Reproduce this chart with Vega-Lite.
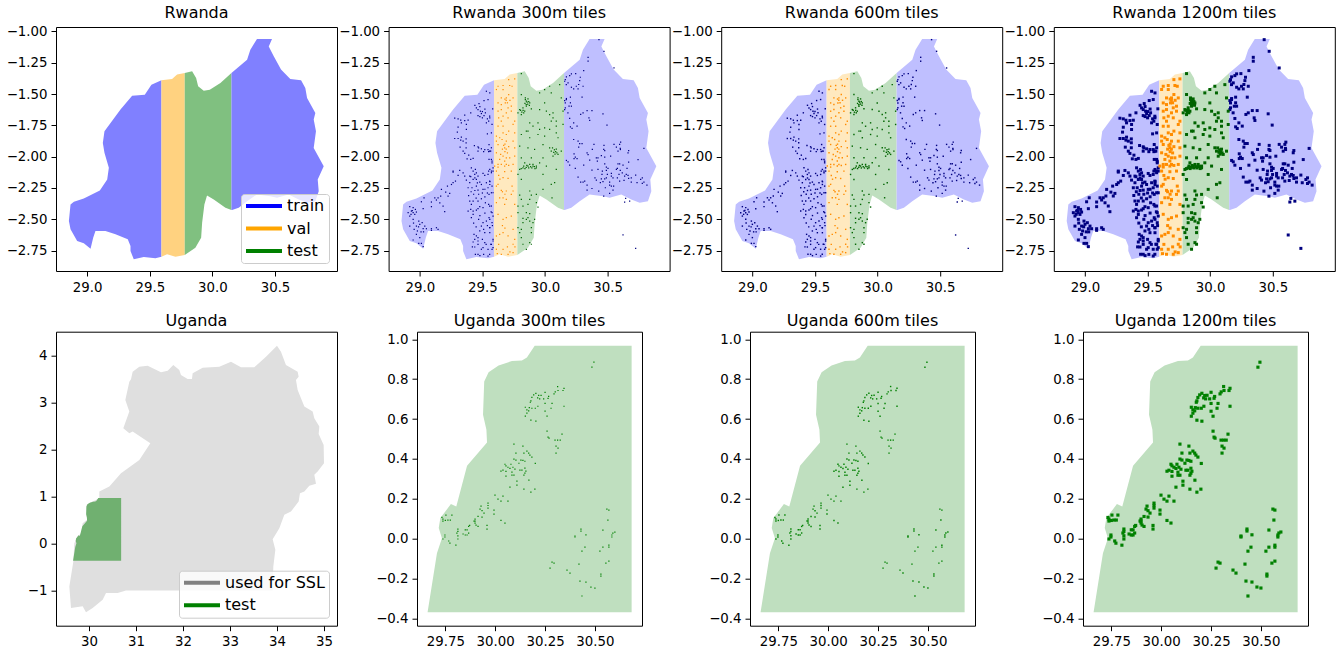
{"$schema":"https://vega.github.io/schema/vega-lite/v6.json","padding":{"left":5,"top":4,"right":0,"bottom":0},"background":"white","spacing":17.7,"resolve":{"scale":{"fill":"independent","stroke":"independent","color":"independent"},"legend":{"fill":"independent","stroke":"independent","color":"independent"}},
"config":{"font":"DejaVu Sans","view":{"stroke":"black","strokeWidth":1},"title":{"fontSize":16,"fontWeight":"normal","font":"DejaVu Sans","color":"black","offset":3,"anchor":"middle"},"axis":{"title":null,"grid":false,"domain":false,"labelFont":"DejaVu Sans","labelFontSize":13.33,"labelColor":"black","tickColor":"black","tickSize":5,"tickWidth":1,"labelPadding":4,"labelOverlap":false,"labelFlush":false,"labelBound":false},"legend":{"orient":"bottom-right","title":null,"labelFont":"DejaVu Sans","labelFontSize":16,"labelColor":"black","fillColor":"rgba(255,255,255,0.8)","strokeColor":"#cccccc","cornerRadius":3,"symbolType":"M-3,0H3","symbolSize":144,"symbolStrokeWidth":4,"symbolOffset":11,"labelOffset":15,"rowPadding":6.5,"padding":4,"offset":8}},
"datasets":{
"rw":[
{"p":"w","s":"train","i":0,"x":29.593,"y":-1.39},{"p":"w","s":"train","i":1,"x":29.513,"y":-1.425},{"p":"w","s":"train","i":2,"x":29.46,"y":-1.505},{"p":"w","s":"train","i":3,"x":29.359,"y":-1.513},{"p":"w","s":"train","i":4,"x":29.266,"y":-1.624},{"p":"w","s":"train","i":5,"x":29.138,"y":-1.797},{"p":"w","s":"train","i":6,"x":29.125,"y":-1.89},{"p":"w","s":"train","i":7,"x":29.138,"y":-1.969},{"p":"w","s":"train","i":8,"x":29.173,"y":-2.089},{"p":"w","s":"train","i":9,"x":29.16,"y":-2.182},{"p":"w","s":"train","i":10,"x":29.101,"y":-2.27},{"p":"w","s":"train","i":11,"x":28.973,"y":-2.333},{"p":"w","s":"train","i":12,"x":28.894,"y":-2.36},{"p":"w","s":"train","i":13,"x":28.867,"y":-2.381},{"p":"w","s":"train","i":14,"x":28.854,"y":-2.514},{"p":"w","s":"train","i":15,"x":28.867,"y":-2.58},{"p":"w","s":"train","i":16,"x":28.92,"y":-2.673},{"p":"w","s":"train","i":17,"x":28.973,"y":-2.692},{"p":"w","s":"train","i":18,"x":29.027,"y":-2.734},{"p":"w","s":"train","i":19,"x":29.048,"y":-2.647},{"p":"w","s":"train","i":20,"x":29.066,"y":-2.594},{"p":"w","s":"train","i":21,"x":29.146,"y":-2.594},{"p":"w","s":"train","i":22,"x":29.226,"y":-2.62},{"p":"w","s":"train","i":23,"x":29.324,"y":-2.66},{"p":"w","s":"train","i":24,"x":29.346,"y":-2.713},{"p":"w","s":"train","i":25,"x":29.346,"y":-2.753},{"p":"w","s":"train","i":26,"x":29.372,"y":-2.819},{"p":"w","s":"train","i":27,"x":29.452,"y":-2.801},{"p":"w","s":"train","i":28,"x":29.545,"y":-2.811},{"p":"w","s":"train","i":29,"x":29.593,"y":-2.798},
{"p":"v","s":"val","i":0,"x":29.593,"y":-1.39},{"p":"v","s":"val","i":1,"x":29.678,"y":-1.38},{"p":"v","s":"val","i":2,"x":29.718,"y":-1.345},{"p":"v","s":"val","i":3,"x":29.779,"y":-1.332},{"p":"v","s":"val","i":4,"x":29.779,"y":-2.785},{"p":"v","s":"val","i":5,"x":29.705,"y":-2.798},{"p":"v","s":"val","i":6,"x":29.638,"y":-2.779},{"p":"v","s":"val","i":7,"x":29.593,"y":-2.798},
{"p":"t","s":"test","i":0,"x":29.779,"y":-1.332},{"p":"t","s":"test","i":1,"x":29.838,"y":-1.319},{"p":"t","s":"test","i":2,"x":29.87,"y":-1.372},{"p":"t","s":"test","i":3,"x":29.886,"y":-1.438},{"p":"t","s":"test","i":4,"x":29.931,"y":-1.473},{"p":"t","s":"test","i":5,"x":29.979,"y":-1.465},{"p":"t","s":"test","i":6,"x":30.064,"y":-1.412},{"p":"t","s":"test","i":7,"x":30.152,"y":-1.332},{"p":"t","s":"test","i":8,"x":30.152,"y":-2.426},{"p":"t","s":"test","i":9,"x":30.104,"y":-2.408},{"p":"t","s":"test","i":10,"x":30.011,"y":-2.341},{"p":"t","s":"test","i":11,"x":29.957,"y":-2.309},{"p":"t","s":"test","i":12,"x":29.936,"y":-2.381},{"p":"t","s":"test","i":13,"x":29.918,"y":-2.527},{"p":"t","s":"test","i":14,"x":29.91,"y":-2.647},{"p":"t","s":"test","i":15,"x":29.864,"y":-2.726},{"p":"t","s":"test","i":16,"x":29.779,"y":-2.785},
{"p":"e","s":"train","i":0,"x":30.152,"y":-1.332},{"p":"e","s":"train","i":1,"x":30.277,"y":-1.226},{"p":"e","s":"train","i":2,"x":30.303,"y":-1.146},{"p":"e","s":"train","i":3,"x":30.356,"y":-1.061},{"p":"e","s":"train","i":4,"x":30.476,"y":-1.061},{"p":"e","s":"train","i":5,"x":30.45,"y":-1.12},{"p":"e","s":"train","i":6,"x":30.49,"y":-1.199},{"p":"e","s":"train","i":7,"x":30.548,"y":-1.305},{"p":"e","s":"train","i":8,"x":30.622,"y":-1.38},{"p":"e","s":"train","i":9,"x":30.708,"y":-1.39},{"p":"e","s":"train","i":10,"x":30.742,"y":-1.452},{"p":"e","s":"train","i":11,"x":30.756,"y":-1.531},{"p":"e","s":"train","i":12,"x":30.822,"y":-1.651},{"p":"e","s":"train","i":13,"x":30.809,"y":-1.704},{"p":"e","s":"train","i":14,"x":30.827,"y":-1.797},{"p":"e","s":"train","i":15,"x":30.809,"y":-1.93},{"p":"e","s":"train","i":16,"x":30.889,"y":-2.076},{"p":"e","s":"train","i":17,"x":30.841,"y":-2.182},{"p":"e","s":"train","i":18,"x":30.849,"y":-2.275},{"p":"e","s":"train","i":19,"x":30.822,"y":-2.355},{"p":"e","s":"train","i":20,"x":30.756,"y":-2.368},{"p":"e","s":"train","i":21,"x":30.689,"y":-2.341},{"p":"e","s":"train","i":22,"x":30.609,"y":-2.301},{"p":"e","s":"train","i":23,"x":30.516,"y":-2.328},{"p":"e","s":"train","i":24,"x":30.463,"y":-2.315},{"p":"e","s":"train","i":25,"x":30.356,"y":-2.301},{"p":"e","s":"train","i":26,"x":30.277,"y":-2.355},{"p":"e","s":"train","i":27,"x":30.21,"y":-2.408},{"p":"e","s":"train","i":28,"x":30.157,"y":-2.426},{"p":"e","s":"train","i":29,"x":30.152,"y":-2.426}],
"ug":[
{"s":"used for SSL","i":0,"x":30.894,"y":3.496},{"s":"used for SSL","i":1,"x":30.929,"y":3.66},{"s":"used for SSL","i":2,"x":31.071,"y":3.766},{"s":"used for SSL","i":3,"x":31.248,"y":3.787},{"s":"used for SSL","i":4,"x":31.532,"y":3.645},{"s":"used for SSL","i":5,"x":31.674,"y":3.681},{"s":"used for SSL","i":6,"x":31.794,"y":3.801},{"s":"used for SSL","i":7,"x":31.922,"y":3.695},{"s":"used for SSL","i":8,"x":31.957,"y":3.589},{"s":"used for SSL","i":9,"x":32.099,"y":3.504},{"s":"used for SSL","i":10,"x":32.191,"y":3.504},{"s":"used for SSL","i":11,"x":32.206,"y":3.624},{"s":"used for SSL","i":12,"x":32.418,"y":3.745},{"s":"used for SSL","i":13,"x":32.773,"y":3.766},{"s":"used for SSL","i":14,"x":33.021,"y":3.872},{"s":"used for SSL","i":15,"x":33.234,"y":3.752},{"s":"used for SSL","i":16,"x":33.518,"y":3.752},{"s":"used for SSL","i":17,"x":33.766,"y":3.979},{"s":"used for SSL","i":18,"x":34.0,"y":4.213},{"s":"used for SSL","i":19,"x":34.085,"y":4.085},{"s":"used for SSL","i":20,"x":34.191,"y":3.801},{"s":"used for SSL","i":21,"x":34.44,"y":3.66},{"s":"used for SSL","i":22,"x":34.461,"y":3.553},{"s":"used for SSL","i":23,"x":34.404,"y":3.482},{"s":"used for SSL","i":24,"x":34.44,"y":3.27},{"s":"used for SSL","i":25,"x":34.582,"y":2.915},{"s":"used for SSL","i":26,"x":34.759,"y":2.809},{"s":"used for SSL","i":27,"x":34.794,"y":2.667},{"s":"used for SSL","i":28,"x":34.901,"y":2.489},{"s":"used for SSL","i":29,"x":34.887,"y":2.333},{"s":"used for SSL","i":30,"x":34.993,"y":2.099},{"s":"used for SSL","i":31,"x":35.0,"y":1.709},{"s":"used for SSL","i":32,"x":34.865,"y":1.532},{"s":"used for SSL","i":33,"x":34.794,"y":1.461},{"s":"used for SSL","i":34,"x":34.83,"y":1.27},{"s":"used for SSL","i":35,"x":34.688,"y":1.227},{"s":"used for SSL","i":36,"x":34.582,"y":1.106},{"s":"used for SSL","i":37,"x":34.489,"y":1.071},{"s":"used for SSL","i":38,"x":34.461,"y":0.894},{"s":"used for SSL","i":39,"x":34.298,"y":0.681},{"s":"used for SSL","i":40,"x":34.156,"y":0.61},{"s":"used for SSL","i":41,"x":34.05,"y":0.326},{"s":"used for SSL","i":42,"x":33.908,"y":0.092},{"s":"used for SSL","i":43,"x":33.965,"y":-0.135},{"s":"used for SSL","i":44,"x":33.922,"y":-0.489},{"s":"used for SSL","i":45,"x":33.908,"y":-1.0},{"s":"used for SSL","i":46,"x":30.787,"y":-1.0},{"s":"used for SSL","i":47,"x":30.61,"y":-1.057},{"s":"used for SSL","i":48,"x":30.362,"y":-1.057},{"s":"used for SSL","i":49,"x":30.291,"y":-1.199},{"s":"used for SSL","i":50,"x":30.078,"y":-1.376},{"s":"used for SSL","i":51,"x":29.936,"y":-1.468},{"s":"used for SSL","i":52,"x":29.865,"y":-1.34},{"s":"used for SSL","i":53,"x":29.617,"y":-1.376},{"s":"used for SSL","i":54,"x":29.582,"y":-0.915},{"s":"used for SSL","i":55,"x":29.667,"y":-0.383},{"s":"used for SSL","i":56,"x":29.688,"y":0.007},{"s":"used for SSL","i":57,"x":29.759,"y":0.149},{"s":"used for SSL","i":58,"x":29.83,"y":0.22},{"s":"used for SSL","i":59,"x":29.865,"y":0.433},{"s":"used for SSL","i":60,"x":29.957,"y":0.504},{"s":"used for SSL","i":61,"x":29.95,"y":0.823},{"s":"used for SSL","i":62,"x":30.043,"y":0.879},{"s":"used for SSL","i":63,"x":30.22,"y":0.965},{"s":"used for SSL","i":64,"x":30.22,"y":1.106},{"s":"used for SSL","i":65,"x":30.433,"y":1.213},{"s":"used for SSL","i":66,"x":30.681,"y":1.496},{"s":"used for SSL","i":67,"x":31.071,"y":1.78},{"s":"used for SSL","i":68,"x":31.305,"y":2.135},{"s":"used for SSL","i":69,"x":30.929,"y":2.383},{"s":"used for SSL","i":70,"x":30.858,"y":2.348},{"s":"used for SSL","i":71,"x":30.73,"y":2.454},{"s":"used for SSL","i":72,"x":30.858,"y":2.809},{"s":"used for SSL","i":73,"x":30.773,"y":3.057},{"s":"used for SSL","i":74,"x":30.858,"y":3.447},
{"s":"test","i":0,"x":29.661,"y":-0.37},{"s":"test","i":1,"x":29.708,"y":-0.073},{"s":"test","i":2,"x":29.733,"y":0.002},{"s":"test","i":3,"x":29.717,"y":0.053},{"s":"test","i":4,"x":29.725,"y":0.103},{"s":"test","i":5,"x":29.778,"y":0.173},{"s":"test","i":6,"x":29.805,"y":0.161},{"s":"test","i":7,"x":29.859,"y":0.365},{"s":"test","i":8,"x":29.959,"y":0.482},{"s":"test","i":9,"x":29.956,"y":0.546},{"s":"test","i":10,"x":29.939,"y":0.621},{"s":"test","i":11,"x":29.945,"y":0.788},{"s":"test","i":12,"x":29.967,"y":0.835},{"s":"test","i":13,"x":30.017,"y":0.868},{"s":"test","i":14,"x":30.084,"y":0.891},{"s":"test","i":15,"x":30.134,"y":0.893},{"s":"test","i":16,"x":30.159,"y":0.908},{"s":"test","i":17,"x":30.198,"y":0.968},{"s":"test","i":18,"x":30.684,"y":0.968},{"s":"test","i":19,"x":30.684,"y":-0.37}],
"rp":[
{"s":"train","x":29.532,"y":-1.478},{"s":"train","x":29.559,"y":-1.491},{"s":"train","x":29.545,"y":-1.544},{"s":"train","x":29.513,"y":-1.552},{"s":"train","x":29.473,"y":-1.576},{"s":"train","x":29.452,"y":-1.611},{"s":"train","x":29.465,"y":-1.624},{"s":"train","x":29.484,"y":-1.637},{"s":"train","x":29.524,"y":-1.65},{"s":"train","x":29.492,"y":-1.656},{"s":"train","x":29.465,"y":-1.672},{"s":"train","x":29.513,"y":-1.672},{"s":"train","x":29.559,"y":-1.69},{"s":"train","x":29.54,"y":-1.698},{"s":"train","x":29.359,"y":-1.669},{"s":"train","x":29.407,"y":-1.65},{"s":"train","x":29.279,"y":-1.693},{"s":"train","x":29.306,"y":-1.698},{"s":"train","x":29.327,"y":-1.709},{"s":"train","x":29.332,"y":-1.73},{"s":"train","x":29.359,"y":-1.712},{"s":"train","x":29.386,"y":-1.709},{"s":"train","x":29.372,"y":-1.743},{"s":"train","x":29.372,"y":-1.783},{"s":"train","x":29.532,"y":-1.73},{"s":"train","x":29.306,"y":-1.765},{"s":"train","x":29.3,"y":-1.804},{"s":"train","x":29.279,"y":-1.855},{"s":"train","x":29.306,"y":-1.855},{"s":"train","x":29.332,"y":-1.844},{"s":"train","x":29.327,"y":-1.868},{"s":"train","x":29.346,"y":-1.876},{"s":"train","x":29.37,"y":-1.858},{"s":"train","x":29.37,"y":-1.889},{"s":"train","x":29.37,"y":-1.929},{"s":"train","x":29.322,"y":-1.924},{"s":"train","x":29.346,"y":-1.956},{"s":"train","x":29.359,"y":-1.974},{"s":"train","x":29.391,"y":-1.988},{"s":"train","x":29.378,"y":-2.017},{"s":"train","x":29.407,"y":-2.022},{"s":"train","x":29.426,"y":-2.014},{"s":"train","x":29.436,"y":-1.911},{"s":"train","x":29.465,"y":-1.921},{"s":"train","x":29.492,"y":-1.937},{"s":"train","x":29.519,"y":-1.943},{"s":"train","x":29.545,"y":-1.943},{"s":"train","x":29.566,"y":-1.956},{"s":"train","x":29.572,"y":-2.022},{"s":"train","x":29.577,"y":-2.036},{"s":"train","x":29.54,"y":-1.818},{"s":"train","x":29.572,"y":-1.81},{"s":"train","x":29.465,"y":-1.956},{"s":"train","x":29.266,"y":-2.115},{"s":"train","x":29.319,"y":-2.11},{"s":"train","x":29.346,"y":-2.129},{"s":"train","x":29.306,"y":-2.15},{"s":"train","x":29.412,"y":-2.089},{"s":"train","x":29.426,"y":-2.115},{"s":"train","x":29.444,"y":-2.102},{"s":"train","x":29.452,"y":-2.129},{"s":"train","x":29.465,"y":-2.155},{"s":"train","x":29.399,"y":-2.155},{"s":"train","x":29.519,"y":-2.15},{"s":"train","x":29.559,"y":-2.102},{"s":"train","x":29.585,"y":-2.115},
{"s":"train","x":29.266,"y":-2.123},{"s":"train","x":29.359,"y":-2.155},{"s":"train","x":29.439,"y":-2.142},{"s":"train","x":29.505,"y":-2.134},{"s":"train","x":29.545,"y":-2.142},{"s":"train","x":29.572,"y":-2.115},{"s":"train","x":29.407,"y":-2.16},{"s":"train","x":29.426,"y":-2.182},{"s":"train","x":29.452,"y":-2.182},{"s":"train","x":29.479,"y":-2.203},{"s":"train","x":29.399,"y":-2.208},{"s":"train","x":29.372,"y":-2.187},{"s":"train","x":29.386,"y":-2.248},{"s":"train","x":29.417,"y":-2.248},{"s":"train","x":29.452,"y":-2.235},{"s":"train","x":29.492,"y":-2.222},{"s":"train","x":29.532,"y":-2.208},{"s":"train","x":29.559,"y":-2.222},{"s":"train","x":29.465,"y":-2.267},{"s":"train","x":29.505,"y":-2.261},{"s":"train","x":29.545,"y":-2.248},{"s":"train","x":29.572,"y":-2.288},{"s":"train","x":29.253,"y":-2.222},{"s":"train","x":29.266,"y":-2.208},{"s":"train","x":29.285,"y":-2.195},{"s":"train","x":29.221,"y":-2.235},{"s":"train","x":29.173,"y":-2.261},{"s":"train","x":29.207,"y":-2.283},{"s":"train","x":29.239,"y":-2.293},{"s":"train","x":29.226,"y":-2.314},{"s":"train","x":29.146,"y":-2.328},{"s":"train","x":29.167,"y":-2.314},{"s":"train","x":29.12,"y":-2.328},{"s":"train","x":29.133,"y":-2.346},{"s":"train","x":29.16,"y":-2.368},{"s":"train","x":29.186,"y":-2.394},{"s":"train","x":29.093,"y":-2.362},{"s":"train","x":29.093,"y":-2.399},{"s":"train","x":29.034,"y":-2.328},{"s":"train","x":29.013,"y":-2.36},{"s":"train","x":29.027,"y":-2.415},{"s":"train","x":29.199,"y":-2.439},{"s":"train","x":29.399,"y":-2.354},{"s":"train","x":29.426,"y":-2.354},{"s":"train","x":29.412,"y":-2.381},{"s":"train","x":29.407,"y":-2.421},{"s":"train","x":29.465,"y":-2.354},{"s":"train","x":29.492,"y":-2.336},{"s":"train","x":29.524,"y":-2.368},{"s":"train","x":29.55,"y":-2.381},{"s":"train","x":29.479,"y":-2.399},{"s":"train","x":29.505,"y":-2.407},{"s":"train","x":29.572,"y":-2.394},{"s":"train","x":29.386,"y":-2.434},{"s":"train","x":29.426,"y":-2.434},{"s":"train","x":29.452,"y":-2.426},{"s":"train","x":29.465,"y":-2.415},{"s":"train","x":29.426,"y":-2.461},{"s":"train","x":29.412,"y":-2.487},{"s":"train","x":29.505,"y":-2.527},{"s":"train","x":29.492,"y":-2.554},{"s":"train","x":29.532,"y":-2.514},{"s":"train","x":29.559,"y":-2.5},{"s":"train","x":29.585,"y":-2.474},{"s":"train","x":29.559,"y":-2.567},{"s":"train","x":29.479,"y":-2.593},{"s":"train","x":29.519,"y":-2.607},{"s":"train","x":29.559,"y":-2.607},{"s":"train","x":29.585,"y":-2.66},
{"s":"train","x":28.92,"y":-2.399},{"s":"train","x":28.947,"y":-2.407},{"s":"train","x":28.965,"y":-2.421},{"s":"train","x":28.907,"y":-2.447},{"s":"train","x":28.933,"y":-2.434},{"s":"train","x":28.947,"y":-2.447},{"s":"train","x":28.96,"y":-2.461},{"s":"train","x":28.92,"y":-2.474},{"s":"train","x":28.973,"y":-2.442},{"s":"train","x":28.947,"y":-2.5},{"s":"train","x":28.992,"y":-2.514},{"s":"train","x":29.019,"y":-2.527},{"s":"train","x":29.04,"y":-2.554},{"s":"train","x":29.0,"y":-2.54},{"s":"train","x":28.92,"y":-2.554},{"s":"train","x":28.973,"y":-2.554},{"s":"train","x":28.955,"y":-2.58},{"s":"train","x":28.981,"y":-2.593},{"s":"train","x":29.027,"y":-2.575},{"s":"train","x":29.053,"y":-2.575},{"s":"train","x":29.093,"y":-2.575},{"s":"train","x":29.133,"y":-2.567},{"s":"train","x":29.146,"y":-2.58},{"s":"train","x":29.093,"y":-2.588},{"s":"train","x":28.973,"y":-2.62},{"s":"train","x":29.0,"y":-2.646},{"s":"train","x":28.947,"y":-2.665},{"s":"train","x":29.013,"y":-2.692},{"s":"train","x":28.992,"y":-2.692},{"s":"train","x":29.027,"y":-2.718},
{"s":"train","x":29.433,"y":-2.62},{"s":"train","x":29.452,"y":-2.633},{"s":"train","x":29.465,"y":-2.646},{"s":"train","x":29.439,"y":-2.66},{"s":"train","x":29.426,"y":-2.681},{"s":"train","x":29.465,"y":-2.673},{"s":"train","x":29.465,"y":-2.7},{"s":"train","x":29.439,"y":-2.721},{"s":"train","x":29.492,"y":-2.739},{"s":"train","x":29.444,"y":-2.779},{"s":"train","x":29.465,"y":-2.779},{"s":"train","x":29.519,"y":-2.686},{"s":"train","x":29.545,"y":-2.739},{"s":"train","x":29.572,"y":-2.7},{"s":"train","x":29.585,"y":-2.726},{"s":"train","x":29.545,"y":-2.793},{"s":"train","x":29.505,"y":-2.726},
{"s":"train","x":29.582,"y":-1.618},{"s":"train","x":29.558,"y":-1.677},{"s":"train","x":29.55,"y":-1.717},{"s":"train","x":29.577,"y":-1.743},{"s":"train","x":29.553,"y":-1.903},{"s":"train","x":29.572,"y":-1.929},{"s":"train","x":29.558,"y":-1.956},{"s":"train","x":29.577,"y":-2.049},{"s":"train","x":29.553,"y":-2.022},{"s":"train","x":30.162,"y":-1.385},{"s":"train","x":30.17,"y":-1.425},{"s":"train","x":30.162,"y":-1.571},{"s":"train","x":30.162,"y":-1.61},{"s":"train","x":30.17,"y":-1.544},{"s":"train","x":30.183,"y":-1.65},
{"s":"train","x":29.55,"y":-2.115},{"s":"train","x":29.572,"y":-2.128},{"s":"train","x":29.585,"y":-2.089},{"s":"train","x":29.558,"y":-2.195},{"s":"train","x":29.577,"y":-2.235},{"s":"train","x":29.553,"y":-2.301},{"s":"train","x":29.585,"y":-2.288},{"s":"train","x":29.558,"y":-2.394},{"s":"train","x":29.577,"y":-2.447},{"s":"train","x":29.553,"y":-2.487},{"s":"train","x":29.577,"y":-2.527},{"s":"train","x":29.558,"y":-2.567},{"s":"train","x":29.585,"y":-2.673},{"s":"train","x":29.566,"y":-2.699},{"s":"train","x":29.577,"y":-2.739},{"s":"train","x":29.558,"y":-2.779},
{"s":"train","x":30.431,"y":-1.066},{"s":"train","x":30.471,"y":-1.159},{"s":"train","x":30.344,"y":-1.207},{"s":"train","x":30.344,"y":-1.238},{"s":"train","x":30.551,"y":-1.292},{"s":"train","x":30.309,"y":-1.313},{"s":"train","x":30.245,"y":-1.337},{"s":"train","x":30.211,"y":-1.339},{"s":"train","x":30.197,"y":-1.353},{"s":"train","x":30.171,"y":-1.363},{"s":"train","x":30.282,"y":-1.366},{"s":"train","x":30.277,"y":-1.393},{"s":"train","x":30.157,"y":-1.398},{"s":"train","x":30.184,"y":-1.411},{"s":"train","x":30.269,"y":-1.424},{"s":"train","x":30.25,"y":-1.438},{"s":"train","x":30.304,"y":-1.438},{"s":"train","x":30.211,"y":-1.446},{"s":"train","x":30.229,"y":-1.459},{"s":"train","x":30.264,"y":-1.459},{"s":"train","x":30.296,"y":-1.525},{"s":"train","x":30.171,"y":-1.536},{"s":"train","x":30.157,"y":-1.552},{"s":"train","x":30.203,"y":-1.525},{"s":"train","x":30.203,"y":-1.57},{"s":"train","x":30.192,"y":-1.597},{"s":"train","x":30.211,"y":-1.597},{"s":"train","x":30.157,"y":-1.624},{"s":"train","x":30.336,"y":-1.632},{"s":"train","x":30.375,"y":-1.632},{"s":"train","x":30.304,"y":-1.65},{"s":"train","x":30.285,"y":-1.663},{"s":"train","x":30.463,"y":-1.658},{"s":"train","x":30.351,"y":-1.69},{"s":"train","x":30.197,"y":-1.695},{"s":"train","x":30.357,"y":-1.711},{"s":"train","x":30.229,"y":-1.73},{"s":"train","x":30.256,"y":-1.756},{"s":"train","x":30.203,"y":-1.762},{"s":"train","x":30.216,"y":-1.775},{"s":"train","x":30.495,"y":-1.748},{"s":"train","x":30.229,"y":-1.863},{"s":"train","x":30.264,"y":-1.876},{"s":"train","x":30.277,"y":-1.895},{"s":"train","x":30.296,"y":-1.895},{"s":"train","x":30.269,"y":-1.924},{"s":"train","x":30.391,"y":-1.902},{"s":"train","x":30.471,"y":-1.91},{"s":"train","x":30.469,"y":-1.942},{"s":"train","x":30.551,"y":-1.902},{"s":"train","x":30.604,"y":-1.884},{"s":"train","x":30.596,"y":-1.902},{"s":"train","x":30.57,"y":-1.924},{"s":"train","x":30.601,"y":-1.934},{"s":"train","x":30.79,"y":-1.934},{"s":"train","x":30.378,"y":-1.942},
{"s":"train","x":30.668,"y":-1.951},{"s":"train","x":30.663,"y":-1.969},{"s":"train","x":30.602,"y":-1.943},{"s":"train","x":30.583,"y":-1.956},{"s":"train","x":30.477,"y":-1.951},{"s":"train","x":30.336,"y":-1.969},{"s":"train","x":30.344,"y":-1.983},{"s":"train","x":30.232,"y":-1.977},{"s":"train","x":30.242,"y":-2.004},{"s":"train","x":30.232,"y":-2.015},{"s":"train","x":30.256,"y":-2.015},{"s":"train","x":30.45,"y":-1.991},{"s":"train","x":30.477,"y":-2.004},{"s":"train","x":30.524,"y":-1.996},{"s":"train","x":30.41,"y":-2.009},{"s":"train","x":30.423,"y":-2.009},{"s":"train","x":30.418,"y":-2.036},{"s":"train","x":30.357,"y":-2.028},{"s":"train","x":30.743,"y":-2.023},{"s":"train","x":30.668,"y":-2.044},{"s":"train","x":30.171,"y":-2.03},{"s":"train","x":30.184,"y":-2.041},{"s":"train","x":30.197,"y":-2.068},{"s":"train","x":30.309,"y":-2.068},{"s":"train","x":30.583,"y":-2.057},{"s":"train","x":30.596,"y":-2.057},{"s":"train","x":30.623,"y":-2.068},{"s":"train","x":30.477,"y":-2.057},{"s":"train","x":30.49,"y":-2.084},{"s":"train","x":30.503,"y":-2.094},{"s":"train","x":30.578,"y":-2.094},{"s":"train","x":30.57,"y":-2.102},{"s":"train","x":30.655,"y":-2.094},{"s":"train","x":30.242,"y":-2.094},{"s":"train","x":30.375,"y":-2.108},{"s":"train","x":30.423,"y":-2.102},{"s":"train","x":30.458,"y":-2.115},{"s":"train","x":30.49,"y":-2.11},{"s":"train","x":30.601,"y":-2.11},{"s":"train","x":30.617,"y":-2.129},{"s":"train","x":30.649,"y":-2.142},{"s":"train","x":30.498,"y":-2.142},{"s":"train","x":30.53,"y":-2.134},{"s":"train","x":30.53,"y":-2.155},{"s":"train","x":30.455,"y":-2.142},{"s":"train","x":30.591,"y":-2.142},{"s":"train","x":30.543,"y":-2.169},{"s":"train","x":30.578,"y":-2.169},{"s":"train","x":30.636,"y":-2.155},{"s":"train","x":30.663,"y":-2.15},{"s":"train","x":30.724,"y":-2.147},{"s":"train","x":30.399,"y":-2.169},{"s":"train","x":30.41,"y":-2.187},{"s":"train","x":30.45,"y":-2.177},{"s":"train","x":30.477,"y":-2.177},{"s":"train","x":30.49,"y":-2.169},{"s":"train","x":30.463,"y":-2.2},{"s":"train","x":30.442,"y":-2.208},{"s":"train","x":30.689,"y":-2.169},{"s":"train","x":30.668,"y":-2.174},{"s":"train","x":30.777,"y":-2.169},{"s":"train","x":30.764,"y":-2.182},{"s":"train","x":30.264,"y":-2.163},{"s":"train","x":30.317,"y":-2.195},{"s":"train","x":30.304,"y":-2.203},{"s":"train","x":30.285,"y":-2.203},{"s":"train","x":30.596,"y":-2.195},{"s":"train","x":30.631,"y":-2.19},{"s":"train","x":30.689,"y":-2.203},{"s":"train","x":30.735,"y":-2.208},{"s":"train","x":30.777,"y":-2.214},{"s":"train","x":30.79,"y":-2.203},{"s":"train","x":30.814,"y":-2.227},{"s":"train","x":30.336,"y":-2.227},{"s":"train","x":30.516,"y":-2.203},{"s":"train","x":30.516,"y":-2.227},{"s":"train","x":30.482,"y":-2.248},{"s":"train","x":30.53,"y":-2.235},{"s":"train","x":30.548,"y":-2.235},{"s":"train","x":30.375,"y":-2.254},{"s":"train","x":30.336,"y":-2.267},{"s":"train","x":30.429,"y":-2.275},{"s":"train","x":30.543,"y":-2.267},{"s":"train","x":30.516,"y":-2.293},{"s":"train","x":30.469,"y":-2.315},{"s":"train","x":30.644,"y":-2.333},{"s":"train","x":30.676,"y":-2.355},{"s":"train","x":30.636,"y":-2.362},{"s":"train","x":30.623,"y":-2.625},{"s":"train","x":30.724,"y":-2.732},
{"s":"train","x":29.44,"y":-2.17},{"s":"train","x":29.46,"y":-2.21},{"s":"train","x":29.44,"y":-2.27},{"s":"train","x":29.47,"y":-2.3},{"s":"train","x":29.43,"y":-2.3},{"s":"train","x":29.45,"y":-2.33},{"s":"train","x":29.5,"y":-2.29},{"s":"train","x":29.52,"y":-2.32},{"s":"train","x":29.54,"y":-2.29},{"s":"train","x":29.41,"y":-2.28},{"s":"train","x":29.39,"y":-2.31},{"s":"train","x":29.48,"y":-2.47},{"s":"train","x":29.52,"y":-2.45},{"s":"train","x":29.54,"y":-2.55},{"s":"train","x":29.51,"y":-2.58},{"s":"train","x":29.57,"y":-2.44},{"s":"train","x":29.47,"y":-2.5},{"s":"train","x":29.45,"y":-2.56},{"s":"train","x":29.43,"y":-2.53},{"s":"train","x":29.58,"y":-2.55},{"s":"train","x":29.5,"y":-2.66},{"s":"train","x":29.53,"y":-2.7},{"s":"train","x":29.48,"y":-2.79},{"s":"train","x":29.51,"y":-2.78},{"s":"train","x":29.42,"y":-2.72},{"s":"train","x":29.56,"y":-2.2},{"s":"train","x":29.52,"y":-2.26},{"s":"train","x":28.94,"y":-2.43},{"s":"train","x":28.93,"y":-2.46},{"s":"train","x":28.95,"y":-2.53},{"s":"train","x":28.99,"y":-2.56},{"s":"train","x":29.01,"y":-2.6},{"s":"train","x":29.03,"y":-2.6},{"s":"train","x":29.44,"y":-1.59},{"s":"train","x":29.48,"y":-1.6},{"s":"train","x":29.5,"y":-1.64},{"s":"train","x":29.52,"y":-1.62},{"s":"train","x":29.48,"y":-1.68},{"s":"train","x":29.5,"y":-1.69},{"s":"train","x":29.47,"y":-1.93},{"s":"train","x":29.51,"y":-1.96},{"s":"train","x":29.55,"y":-1.96},
{"s":"val","x":29.625,"y":-1.438},{"s":"val","x":29.665,"y":-1.432},{"s":"val","x":29.71,"y":-1.385},{"s":"val","x":29.718,"y":-1.432},{"s":"val","x":29.758,"y":-1.379},{"s":"val","x":29.737,"y":-1.438},{"s":"val","x":29.612,"y":-1.464},{"s":"val","x":29.665,"y":-1.464},{"s":"val","x":29.71,"y":-1.504},{"s":"val","x":29.691,"y":-1.531},{"s":"val","x":29.651,"y":-1.531},{"s":"val","x":29.745,"y":-1.531},{"s":"val","x":29.625,"y":-1.571},{"s":"val","x":29.651,"y":-1.584},{"s":"val","x":29.683,"y":-1.571},{"s":"val","x":29.705,"y":-1.61},{"s":"val","x":29.731,"y":-1.597},{"s":"val","x":29.651,"y":-1.624},{"s":"val","x":29.625,"y":-1.637},{"s":"val","x":29.691,"y":-1.65},{"s":"val","x":29.731,"y":-1.637},{"s":"val","x":29.63,"y":-1.69},{"s":"val","x":29.665,"y":-1.677},{"s":"val","x":29.705,"y":-1.69},{"s":"val","x":29.651,"y":-1.717},{"s":"val","x":29.758,"y":-1.717},{"s":"val","x":29.745,"y":-1.743},{"s":"val","x":29.665,"y":-1.757},{"s":"val","x":29.625,"y":-1.757},{"s":"val","x":29.71,"y":-1.796},{"s":"val","x":29.665,"y":-1.81},{"s":"val","x":29.612,"y":-1.836},{"s":"val","x":29.638,"y":-1.849},{"s":"val","x":29.691,"y":-1.823},{"s":"val","x":29.758,"y":-1.81},{"s":"val","x":29.657,"y":-1.863},{"s":"val","x":29.612,"y":-1.876},{"s":"val","x":29.625,"y":-1.903},{"s":"val","x":29.691,"y":-1.876},{"s":"val","x":29.745,"y":-1.876},{"s":"val","x":29.678,"y":-1.929},{"s":"val","x":29.758,"y":-1.929},{"s":"val","x":29.612,"y":-1.969},{"s":"val","x":29.646,"y":-1.982},{"s":"val","x":29.665,"y":-1.996},{"s":"val","x":29.691,"y":-2.009},{"s":"val","x":29.638,"y":-2.022},{"s":"val","x":29.678,"y":-2.035},{"s":"val","x":29.718,"y":-2.009},{"s":"val","x":29.758,"y":-1.996},{"s":"val","x":29.651,"y":-2.062},{"s":"val","x":29.691,"y":-2.062},{"s":"val","x":29.745,"y":-2.062},{"s":"val","x":29.625,"y":-2.062},
{"s":"val","x":29.598,"y":-2.075},{"s":"val","x":29.625,"y":-2.083},{"s":"val","x":29.678,"y":-2.075},{"s":"val","x":29.71,"y":-2.07},{"s":"val","x":29.612,"y":-2.115},{"s":"val","x":29.678,"y":-2.12},{"s":"val","x":29.731,"y":-2.115},{"s":"val","x":29.665,"y":-2.168},{"s":"val","x":29.705,"y":-2.174},{"s":"val","x":29.625,"y":-2.221},{"s":"val","x":29.612,"y":-2.235},{"s":"val","x":29.651,"y":-2.269},{"s":"val","x":29.691,"y":-2.274},{"s":"val","x":29.737,"y":-2.235},{"s":"val","x":29.745,"y":-2.274},{"s":"val","x":29.731,"y":-2.301},{"s":"val","x":29.638,"y":-2.328},{"s":"val","x":29.665,"y":-2.328},{"s":"val","x":29.691,"y":-2.341},{"s":"val","x":29.612,"y":-2.367},{"s":"val","x":29.678,"y":-2.381},{"s":"val","x":29.758,"y":-2.381},{"s":"val","x":29.625,"y":-2.46},{"s":"val","x":29.665,"y":-2.5},{"s":"val","x":29.731,"y":-2.474},{"s":"val","x":29.691,"y":-2.487},{"s":"val","x":29.638,"y":-2.62},{"s":"val","x":29.665,"y":-2.606},{"s":"val","x":29.612,"y":-2.633},{"s":"val","x":29.745,"y":-2.58},{"s":"val","x":29.705,"y":-2.633},{"s":"val","x":29.758,"y":-2.66},{"s":"val","x":29.745,"y":-2.699},{"s":"val","x":29.612,"y":-2.739},{"s":"val","x":29.665,"y":-2.739},{"s":"val","x":29.651,"y":-2.779},{"s":"val","x":29.705,"y":-2.779},{"s":"val","x":29.745,"y":-2.766},{"s":"val","x":29.619,"y":-2.774},
{"s":"val","x":29.69,"y":-1.55},{"s":"val","x":29.72,"y":-1.55},{"s":"val","x":29.7,"y":-1.57},{"s":"val","x":29.68,"y":-1.54},{"s":"val","x":29.67,"y":-1.91},{"s":"val","x":29.68,"y":-1.9},{"s":"val","x":29.69,"y":-1.94},{"s":"val","x":29.71,"y":-1.92},{"s":"val","x":29.66,"y":-1.94},{"s":"val","x":29.68,"y":-1.96},{"s":"val","x":29.7,"y":-1.97},{"s":"val","x":29.63,"y":-2.15},{"s":"val","x":29.64,"y":-2.18},{"s":"val","x":29.66,"y":-2.28},{"s":"val","x":29.68,"y":-2.3},{"s":"val","x":29.66,"y":-2.55},{"s":"val","x":29.68,"y":-2.57},{"s":"val","x":29.63,"y":-2.7},{"s":"val","x":29.7,"y":-2.72},{"s":"val","x":29.72,"y":-2.76},{"s":"val","x":29.76,"y":-2.72},
{"s":"test","x":29.811,"y":-1.337},{"s":"test","x":29.811,"y":-1.504},{"s":"test","x":29.843,"y":-1.531},{"s":"test","x":29.864,"y":-1.539},{"s":"test","x":29.851,"y":-1.557},{"s":"test","x":29.878,"y":-1.571},{"s":"test","x":29.851,"y":-1.597},{"s":"test","x":29.824,"y":-1.61},{"s":"test","x":29.798,"y":-1.624},{"s":"test","x":29.784,"y":-1.65},{"s":"test","x":29.811,"y":-1.664},{"s":"test","x":29.838,"y":-1.637},{"s":"test","x":29.891,"y":-1.618},{"s":"test","x":29.957,"y":-1.491},{"s":"test","x":29.997,"y":-1.464},{"s":"test","x":30.037,"y":-1.438},{"s":"test","x":30.117,"y":-1.425},{"s":"test","x":30.05,"y":-1.491},{"s":"test","x":30.13,"y":-1.531},{"s":"test","x":29.997,"y":-1.571},{"s":"test","x":29.957,"y":-1.624},{"s":"test","x":30.011,"y":-1.637},{"s":"test","x":30.037,"y":-1.664},{"s":"test","x":30.064,"y":-1.69},{"s":"test","x":30.09,"y":-1.717},{"s":"test","x":30.05,"y":-1.717},{"s":"test","x":30.064,"y":-1.65},{"s":"test","x":29.878,"y":-1.73},{"s":"test","x":29.944,"y":-1.73},{"s":"test","x":29.904,"y":-1.757},{"s":"test","x":29.957,"y":-1.783},{"s":"test","x":29.997,"y":-1.77},{"s":"test","x":30.037,"y":-1.783},{"s":"test","x":29.864,"y":-1.796},{"s":"test","x":29.811,"y":-1.823},{"s":"test","x":29.878,"y":-1.849},{"s":"test","x":29.851,"y":-1.796},{"s":"test","x":29.944,"y":-1.823},{"s":"test","x":29.997,"y":-1.836},{"s":"test","x":30.09,"y":-1.81},{"s":"test","x":30.104,"y":-1.849},{"s":"test","x":29.798,"y":-1.916},{"s":"test","x":29.864,"y":-1.929},{"s":"test","x":29.917,"y":-1.942},{"s":"test","x":29.984,"y":-1.903},{"s":"test","x":30.037,"y":-1.929},{"s":"test","x":30.05,"y":-1.956},{"s":"test","x":30.064,"y":-1.996},{"s":"test","x":30.104,"y":-1.982},{"s":"test","x":30.13,"y":-1.956},{"s":"test","x":29.838,"y":-2.049},{"s":"test","x":29.878,"y":-2.062},{"s":"test","x":29.904,"y":-2.062},{"s":"test","x":29.931,"y":-2.075},{"s":"test","x":29.957,"y":-2.049},{"s":"test","x":29.984,"y":-2.009},{"s":"test","x":30.144,"y":-1.637},{"s":"test","x":30.144,"y":-1.743},{"s":"test","x":30.09,"y":-1.757},{"s":"test","x":29.811,"y":-2.009},{"s":"test","x":29.891,"y":-2.009},
{"s":"test","x":29.798,"y":-2.102},{"s":"test","x":29.824,"y":-2.089},{"s":"test","x":29.864,"y":-2.075},{"s":"test","x":29.904,"y":-2.075},{"s":"test","x":29.931,"y":-2.089},{"s":"test","x":30.011,"y":-2.075},{"s":"test","x":30.09,"y":-2.102},{"s":"test","x":29.984,"y":-2.142},{"s":"test","x":29.784,"y":-2.142},{"s":"test","x":29.811,"y":-2.182},{"s":"test","x":30.077,"y":-2.208},{"s":"test","x":30.05,"y":-2.221},{"s":"test","x":29.984,"y":-2.261},{"s":"test","x":29.878,"y":-2.274},{"s":"test","x":29.891,"y":-2.306},{"s":"test","x":29.798,"y":-2.306},{"s":"test","x":29.931,"y":-2.301},{"s":"test","x":29.811,"y":-2.341},{"s":"test","x":29.878,"y":-2.341},{"s":"test","x":29.931,"y":-2.367},{"s":"test","x":29.864,"y":-2.381},{"s":"test","x":29.824,"y":-2.394},{"s":"test","x":29.784,"y":-2.394},{"s":"test","x":29.944,"y":-2.402},{"s":"test","x":29.851,"y":-2.447},{"s":"test","x":29.878,"y":-2.455},{"s":"test","x":29.784,"y":-2.447},{"s":"test","x":29.864,"y":-2.487},{"s":"test","x":29.824,"y":-2.492},{"s":"test","x":29.851,"y":-2.5},{"s":"test","x":29.917,"y":-2.5},{"s":"test","x":29.904,"y":-2.527},{"s":"test","x":29.878,"y":-2.514},{"s":"test","x":29.784,"y":-2.567},{"s":"test","x":29.824,"y":-2.527},{"s":"test","x":29.811,"y":-2.58},{"s":"test","x":29.891,"y":-2.567},{"s":"test","x":29.891,"y":-2.606},{"s":"test","x":29.811,"y":-2.646},{"s":"test","x":29.878,"y":-2.686},{"s":"test","x":29.824,"y":-2.699},{"s":"test","x":29.891,"y":-2.699},{"s":"test","x":29.851,"y":-2.739},{"s":"test","x":29.798,"y":-2.606},{"s":"test","x":30.056,"y":-2.328},
{"s":"test","x":29.843,"y":-1.545},{"s":"test","x":29.857,"y":-1.565},{"s":"test","x":29.87,"y":-1.56},{"s":"test","x":29.862,"y":-1.58},{"s":"test","x":29.84,"y":-1.575},{"s":"test","x":29.85,"y":-1.585},{"s":"test","x":29.875,"y":-1.59},{"s":"test","x":29.805,"y":-1.63},{"s":"test","x":29.815,"y":-1.645},{"s":"test","x":29.825,"y":-1.63},{"s":"test","x":29.83,"y":-1.65},{"s":"test","x":29.83,"y":-2.075},{"s":"test","x":29.85,"y":-2.085},{"s":"test","x":29.87,"y":-2.09},{"s":"test","x":29.885,"y":-2.08},{"s":"test","x":29.84,"y":-2.095},{"s":"test","x":29.895,"y":-2.09},{"s":"test","x":29.915,"y":-2.08},{"s":"test","x":29.92,"y":-2.095},{"s":"test","x":29.81,"y":-2.095},{"s":"test","x":29.855,"y":-2.07},{"s":"test","x":30.06,"y":-1.93},{"s":"test","x":30.075,"y":-1.945},{"s":"test","x":30.085,"y":-1.96},{"s":"test","x":30.07,"y":-1.965},{"s":"test","x":30.09,"y":-1.94},{"s":"test","x":30.08,"y":-1.98},{"s":"test","x":30.095,"y":-1.97}],
"up":[
{"x":30.495,"y":0.885},{"x":30.485,"y":0.86},{"x":30.313,"y":0.763},{"x":30.345,"y":0.754},{"x":30.315,"y":0.743},{"x":30.34,"y":0.743},{"x":30.301,"y":0.736},{"x":30.295,"y":0.726},{"x":30.25,"y":0.734},{"x":30.23,"y":0.719},{"x":30.218,"y":0.718},{"x":30.204,"y":0.729},{"x":30.193,"y":0.721},{"x":30.184,"y":0.708},{"x":30.179,"y":0.691},{"x":30.176,"y":0.684},{"x":30.213,"y":0.706},{"x":30.223,"y":0.701},{"x":30.268,"y":0.713},{"x":30.265,"y":0.704},{"x":30.243,"y":0.701},{"x":30.25,"y":0.678},{"x":30.285,"y":0.678},{"x":30.345,"y":0.664},{"x":30.214,"y":0.664},{"x":30.201,"y":0.654},{"x":30.184,"y":0.654},{"x":30.171,"y":0.657},{"x":30.151,"y":0.659},{"x":30.159,"y":0.646},{"x":30.168,"y":0.641},{"x":30.159,"y":0.629},{"x":30.151,"y":0.614},{"x":30.25,"y":0.639},{"x":30.28,"y":0.654},{"x":30.26,"y":0.614},{"x":30.179,"y":0.594},{"x":30.204,"y":0.589},
{"x":30.26,"y":0.539},{"x":30.335,"y":0.524},{"x":30.265,"y":0.509},{"x":30.27,"y":0.504},{"x":30.3,"y":0.494},{"x":30.313,"y":0.494},{"x":30.326,"y":0.494},{"x":30.305,"y":0.464},{"x":30.315,"y":0.454},{"x":30.305,"y":0.429},
{"x":30.094,"y":0.474},{"x":30.139,"y":0.464},{"x":30.159,"y":0.439},{"x":30.168,"y":0.429},{"x":30.174,"y":0.419},{"x":30.184,"y":0.409},{"x":30.144,"y":0.429},{"x":30.104,"y":0.429},{"x":30.094,"y":0.399},{"x":30.104,"y":0.394},{"x":30.129,"y":0.394},{"x":30.139,"y":0.392},{"x":30.149,"y":0.388},{"x":30.119,"y":0.378},{"x":30.201,"y":0.377},{"x":30.079,"y":0.373},{"x":30.049,"y":0.373},{"x":30.054,"y":0.365},{"x":30.064,"y":0.358},{"x":30.074,"y":0.352},{"x":30.089,"y":0.358},{"x":30.099,"y":0.348},{"x":30.029,"y":0.338},{"x":30.039,"y":0.343},{"x":30.054,"y":0.337},{"x":30.084,"y":0.333},{"x":30.124,"y":0.343},{"x":30.134,"y":0.343},{"x":30.149,"y":0.353},{"x":30.154,"y":0.338},{"x":30.149,"y":0.328},{"x":30.084,"y":0.318},{"x":30.094,"y":0.318},{"x":30.144,"y":0.318},{"x":30.054,"y":0.313},{"x":30.169,"y":0.293},{"x":30.109,"y":0.288},{"x":30.109,"y":0.268},{"x":30.074,"y":0.258},{"x":30.144,"y":0.248},{"x":30.199,"y":0.248},{"x":30.179,"y":0.233},
{"x":29.999,"y":0.218},{"x":30.039,"y":0.213},{"x":30.014,"y":0.198},{"x":30.029,"y":0.188},{"x":30.064,"y":0.188},{"x":29.964,"y":0.178},{"x":29.964,"y":0.166},{"x":29.964,"y":0.153},{"x":29.929,"y":0.163},{"x":29.924,"y":0.148},{"x":29.934,"y":0.14},{"x":29.944,"y":0.128},{"x":29.994,"y":0.143},{"x":29.994,"y":0.123},{"x":29.914,"y":0.111},{"x":29.934,"y":0.108},{"x":29.899,"y":0.098},{"x":29.899,"y":0.088},{"x":29.894,"y":0.088},{"x":29.899,"y":0.078},{"x":29.904,"y":0.068},{"x":29.914,"y":0.061},{"x":29.959,"y":0.066},{"x":29.959,"y":0.048},{"x":30.029,"y":0.091},{"x":30.049,"y":0.078},
{"x":29.733,"y":0.106},{"x":29.753,"y":0.118},{"x":29.783,"y":0.118},{"x":29.738,"y":0.098},{"x":29.738,"y":0.088},{"x":29.75,"y":0.091},{"x":29.763,"y":0.093},{"x":29.775,"y":0.093},{"x":29.872,"y":0.066},{"x":29.867,"y":0.061},{"x":29.813,"y":0.048},{"x":29.813,"y":0.036},{"x":29.85,"y":0.044},{"x":29.859,"y":0.044},{"x":29.808,"y":0.028},{"x":29.839,"y":0.023},{"x":29.85,"y":0.018},{"x":29.859,"y":0.018},{"x":29.867,"y":0.028},{"x":29.813,"y":0.014},{"x":29.813,"y":-0.002},{"x":29.748,"y":0.018},{"x":29.748,"y":0.008},{"x":29.738,"y":-0.002},{"x":29.767,"y":-0.012},{"x":29.773,"y":-0.023},{"x":29.803,"y":-0.033},
{"x":30.56,"y":0.148},{"x":30.57,"y":0.143},{"x":30.565,"y":0.093},{"x":30.43,"y":0.048},{"x":30.43,"y":0.038},{"x":30.54,"y":0.043},{"x":30.6,"y":0.033},{"x":30.59,"y":0.028},{"x":30.585,"y":0.018},{"x":30.585,"y":0.008},{"x":30.455,"y":0.019},{"x":30.4,"y":0.013},{"x":30.4,"y":0.008},{"x":30.45,"y":-0.043},{"x":30.54,"y":-0.043},{"x":30.57,"y":-0.033},{"x":30.57,"y":-0.043},{"x":30.525,"y":-0.063},{"x":30.435,"y":-0.063},{"x":30.285,"y":-0.118},{"x":30.295,"y":-0.123},{"x":30.57,"y":-0.113},{"x":30.555,"y":-0.123},{"x":30.42,"y":-0.128},{"x":30.275,"y":-0.148},{"x":30.36,"y":-0.158},{"x":30.375,"y":-0.173},{"x":30.53,"y":-0.178},{"x":30.53,"y":-0.188},{"x":30.425,"y":-0.213},{"x":30.455,"y":-0.218},{"x":30.48,"y":-0.243},{"x":30.5,"y":-0.248},{"x":30.435,"y":-0.288}]
},
"vconcat":[
{"bounds":"flush","spacing":51.6,"resolve":{"scale":{"fill":"independent","stroke":"independent","color":"independent"},"legend":{"fill":"independent","stroke":"independent","color":"independent"}},"hconcat":[
{"title":"Rwanda","width":281,"height":244,"layer":[{"data":{"name":"rw"},"mark":{"type":"line","strokeWidth":0},"encoding":{"x":{"field":"x","type":"quantitative","scale":{"domain":[28.751,30.995],"nice":false,"zero":false},"axis":{"values":[29,29.5,30,30.5],"format":".1f"}},"y":{"field":"y","type":"quantitative","scale":{"domain":[-2.9125,-0.965],"nice":false,"zero":false},"axis":{"values":[-1,-1.25,-1.5,-1.75,-2,-2.25,-2.5,-2.75],"format":".2f"}},"order":{"field":"i","type":"quantitative"},"detail":{"field":"p"},"fill":{"field":"s","type":"nominal","scale":{"domain":["test","val","train"],"range":["#80c080","#ffd280","#8080ff"]},"legend":null},"stroke":{"field":"s","type":"nominal","scale":{"domain":["train","val","test"],"range":["#0000ff","#ffa500","#008000"]},"legend":{}}}}]},
{"title":"Rwanda 300m tiles","width":281,"height":244,"layer":[{"data":{"name":"rw"},"mark":{"type":"line","strokeWidth":0},"encoding":{"x":{"field":"x","type":"quantitative","scale":{"domain":[28.751,30.995],"nice":false,"zero":false},"axis":{"values":[29,29.5,30,30.5],"format":".1f"}},"y":{"field":"y","type":"quantitative","scale":{"domain":[-2.9125,-0.965],"nice":false,"zero":false},"axis":{"values":[-1,-1.25,-1.5,-1.75,-2,-2.25,-2.5,-2.75],"format":".2f"}},"order":{"field":"i","type":"quantitative"},"detail":{"field":"p"},"fill":{"field":"s","type":"nominal","scale":{"domain":["train","val","test"],"range":["#bfbfff","#ffe9bf","#bfdfbf"]},"legend":null}}},{"data":{"name":"rp"},"mark":{"type":"square","size":1.5,"opacity":1},"encoding":{"x":{"field":"x","type":"quantitative","scale":{"domain":[28.751,30.995],"nice":false,"zero":false},"axis":{"values":[29,29.5,30,30.5],"format":".1f"}},"y":{"field":"y","type":"quantitative","scale":{"domain":[-2.9125,-0.965],"nice":false,"zero":false},"axis":{"values":[-1,-1.25,-1.5,-1.75,-2,-2.25,-2.5,-2.75],"format":".2f"}},"color":{"field":"s","type":"nominal","scale":{"domain":["train","val","test"],"range":["#000080","#ff8c00","#006400"]},"legend":null}}}],"resolve":{"scale":{"fill":"independent","color":"independent"}}},
{"title":"Rwanda 600m tiles","width":281,"height":244,"layer":[{"data":{"name":"rw"},"mark":{"type":"line","strokeWidth":0},"encoding":{"x":{"field":"x","type":"quantitative","scale":{"domain":[28.751,30.995],"nice":false,"zero":false},"axis":{"values":[29,29.5,30,30.5],"format":".1f"}},"y":{"field":"y","type":"quantitative","scale":{"domain":[-2.9125,-0.965],"nice":false,"zero":false},"axis":{"values":[-1,-1.25,-1.5,-1.75,-2,-2.25,-2.5,-2.75],"format":".2f"}},"order":{"field":"i","type":"quantitative"},"detail":{"field":"p"},"fill":{"field":"s","type":"nominal","scale":{"domain":["train","val","test"],"range":["#bfbfff","#ffe9bf","#bfdfbf"]},"legend":null}}},{"data":{"name":"rp"},"mark":{"type":"square","size":2,"opacity":1},"encoding":{"x":{"field":"x","type":"quantitative","scale":{"domain":[28.751,30.995],"nice":false,"zero":false},"axis":{"values":[29,29.5,30,30.5],"format":".1f"}},"y":{"field":"y","type":"quantitative","scale":{"domain":[-2.9125,-0.965],"nice":false,"zero":false},"axis":{"values":[-1,-1.25,-1.5,-1.75,-2,-2.25,-2.5,-2.75],"format":".2f"}},"color":{"field":"s","type":"nominal","scale":{"domain":["train","val","test"],"range":["#000080","#ff8c00","#006400"]},"legend":null}}}],"resolve":{"scale":{"fill":"independent","color":"independent"}}},
{"title":"Rwanda 1200m tiles","width":281,"height":244,"layer":[{"data":{"name":"rw"},"mark":{"type":"line","strokeWidth":0},"encoding":{"x":{"field":"x","type":"quantitative","scale":{"domain":[28.751,30.995],"nice":false,"zero":false},"axis":{"values":[29,29.5,30,30.5],"format":".1f"}},"y":{"field":"y","type":"quantitative","scale":{"domain":[-2.9125,-0.965],"nice":false,"zero":false},"axis":{"values":[-1,-1.25,-1.5,-1.75,-2,-2.25,-2.5,-2.75],"format":".2f"}},"order":{"field":"i","type":"quantitative"},"detail":{"field":"p"},"fill":{"field":"s","type":"nominal","scale":{"domain":["train","val","test"],"range":["#bfbfff","#ffe9bf","#bfdfbf"]},"legend":null}}},{"data":{"name":"rp"},"mark":{"type":"square","size":9,"opacity":1},"encoding":{"x":{"field":"x","type":"quantitative","scale":{"domain":[28.751,30.995],"nice":false,"zero":false},"axis":{"values":[29,29.5,30,30.5],"format":".1f"}},"y":{"field":"y","type":"quantitative","scale":{"domain":[-2.9125,-0.965],"nice":false,"zero":false},"axis":{"values":[-1,-1.25,-1.5,-1.75,-2,-2.25,-2.5,-2.75],"format":".2f"}},"color":{"field":"s","type":"nominal","scale":{"domain":["train","val","test"],"range":["#000080","#ff8c00","#006400"]},"legend":null}}}],"resolve":{"scale":{"fill":"independent","color":"independent"}}}
]},
{"bounds":"flush","spacing":80,"resolve":{"scale":{"fill":"independent","stroke":"independent","color":"independent"},"legend":{"fill":"independent","stroke":"independent","color":"independent"}},"hconcat":[
{"title":"Uganda","width":281,"height":294,"layer":[{"data":{"name":"ug"},"mark":{"type":"line","strokeWidth":0},"encoding":{"x":{"field":"x","type":"quantitative","scale":{"domain":[29.298,35.277],"nice":false,"zero":false},"axis":{"values":[30,31,32,33,34,35],"format":"d"}},"y":{"field":"y","type":"quantitative","scale":{"domain":[-1.752,4.511],"nice":false,"zero":false},"axis":{"values":[-1,0,1,2,3,4],"format":"d"}},"order":{"field":"i","type":"quantitative"},"fill":{"field":"s","type":"nominal","scale":{"domain":["test","used for SSL"],"range":["#70b070","#dfdfdf"]},"legend":null},"stroke":{"field":"s","type":"nominal","scale":{"domain":["used for SSL","test"],"range":["#808080","#008000"]},"legend":{}}}}]},
{"bounds":"flush","spacing":108,"hconcat":[
{"title":"Uganda 300m tiles","width":225,"height":294,"layer":[{"data":{"name":"ug"},"transform":[{"filter":{"field":"s","equal":"test"}}],"mark":{"type":"line","strokeWidth":0,"fill":"#bfdfbf"},"encoding":{"x":{"field":"x","type":"quantitative","scale":{"domain":[29.608,30.736],"nice":false,"zero":false},"axis":{"values":[29.75,30,30.25,30.5],"format":".2f"}},"y":{"field":"y","type":"quantitative","scale":{"domain":[-0.437,1.038],"nice":false,"zero":false},"axis":{"values":[-0.4,-0.2,0,0.2,0.4,0.6,0.8,1],"format":".1f"}},"order":{"field":"i","type":"quantitative"}}},{"data":{"name":"up"},"mark":{"type":"square","size":1.5,"opacity":1,"color":"#008000"},"encoding":{"x":{"field":"x","type":"quantitative","scale":{"domain":[29.608,30.736],"nice":false,"zero":false},"axis":{"values":[29.75,30,30.25,30.5],"format":".2f"}},"y":{"field":"y","type":"quantitative","scale":{"domain":[-0.437,1.038],"nice":false,"zero":false},"axis":{"values":[-0.4,-0.2,0,0.2,0.4,0.6,0.8,1],"format":".1f"}}}}]},
{"title":"Uganda 600m tiles","width":225,"height":294,"layer":[{"data":{"name":"ug"},"transform":[{"filter":{"field":"s","equal":"test"}}],"mark":{"type":"line","strokeWidth":0,"fill":"#bfdfbf"},"encoding":{"x":{"field":"x","type":"quantitative","scale":{"domain":[29.608,30.736],"nice":false,"zero":false},"axis":{"values":[29.75,30,30.25,30.5],"format":".2f"}},"y":{"field":"y","type":"quantitative","scale":{"domain":[-0.437,1.038],"nice":false,"zero":false},"axis":{"values":[-0.4,-0.2,0,0.2,0.4,0.6,0.8,1],"format":".1f"}},"order":{"field":"i","type":"quantitative"}}},{"data":{"name":"up"},"mark":{"type":"square","size":2,"opacity":1,"color":"#008000"},"encoding":{"x":{"field":"x","type":"quantitative","scale":{"domain":[29.608,30.736],"nice":false,"zero":false},"axis":{"values":[29.75,30,30.25,30.5],"format":".2f"}},"y":{"field":"y","type":"quantitative","scale":{"domain":[-0.437,1.038],"nice":false,"zero":false},"axis":{"values":[-0.4,-0.2,0,0.2,0.4,0.6,0.8,1],"format":".1f"}}}}]},
{"title":"Uganda 1200m tiles","width":225,"height":294,"layer":[{"data":{"name":"ug"},"transform":[{"filter":{"field":"s","equal":"test"}}],"mark":{"type":"line","strokeWidth":0,"fill":"#bfdfbf"},"encoding":{"x":{"field":"x","type":"quantitative","scale":{"domain":[29.608,30.736],"nice":false,"zero":false},"axis":{"values":[29.75,30,30.25,30.5],"format":".2f"}},"y":{"field":"y","type":"quantitative","scale":{"domain":[-0.437,1.038],"nice":false,"zero":false},"axis":{"values":[-0.4,-0.2,0,0.2,0.4,0.6,0.8,1],"format":".1f"}},"order":{"field":"i","type":"quantitative"}}},{"data":{"name":"up"},"mark":{"type":"square","size":10,"opacity":1,"color":"#008000"},"encoding":{"x":{"field":"x","type":"quantitative","scale":{"domain":[29.608,30.736],"nice":false,"zero":false},"axis":{"values":[29.75,30,30.25,30.5],"format":".2f"}},"y":{"field":"y","type":"quantitative","scale":{"domain":[-0.437,1.038],"nice":false,"zero":false},"axis":{"values":[-0.4,-0.2,0,0.2,0.4,0.6,0.8,1],"format":".1f"}}}}]}
]}
]}
]}
